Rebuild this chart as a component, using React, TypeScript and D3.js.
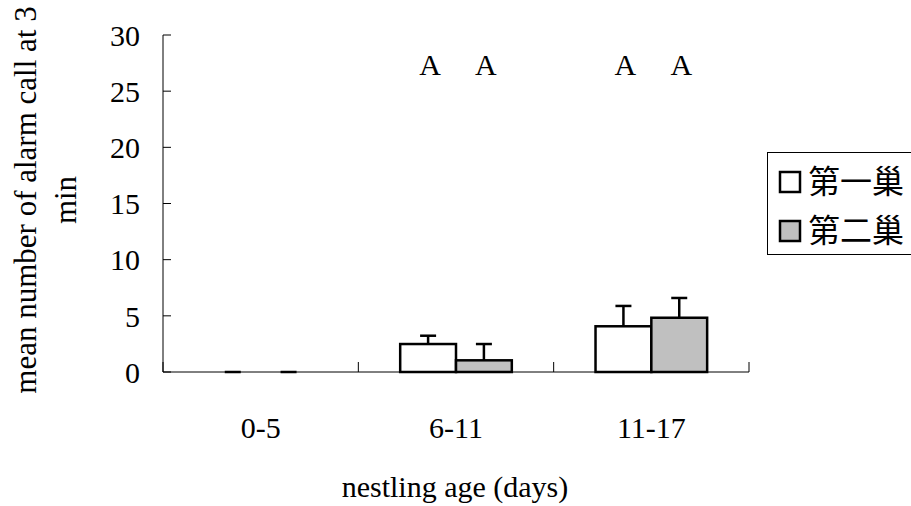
import React from "react";
import * as d3 from "d3";

const categories = ["0-5", "6-11", "11-17"];
const seriesNames = ["第一巢", "第二巢"];
const firstNest = [0, 2.49, 4.07];
const secondNest = [0, 1.04, 4.83];
const firstErr = [0, 0.74, 1.81];
const secondErr = [0, 1.45, 1.76];
const groupLabels = [["", ""], ["A", "A"], ["A", "A"]];
const yTicks = [0, 5, 10, 15, 20, 25, 30];

const W = 911, H = 506;
const left = 163, right = 749, top = 35, bottom = 372;
const fills = ["#ffffff", "#c0c0c0"];
const serif = "'Liberation Serif', 'Times New Roman', serif";
const cjk = "'Noto Sans CJK TC', sans-serif";

export default function App() {
  const x = d3.scaleBand().domain(categories).range([left, right]);
  const xs = d3.scaleBand().domain(seriesNames).range([0, x.bandwidth()]).paddingInner(0).paddingOuter(0.75);
  const y = d3.scaleLinear().domain([0, 30]).range([bottom, top]);
  const series = [firstNest, secondNest];
  const errs = [firstErr, secondErr];
  const bw = xs.bandwidth();
  const bounds = [left, ...categories.map((c) => (x(c) as number) + x.bandwidth())];

  return (
    <svg width={W} height={H} style={{ position: "absolute", left: 0, top: 0 }}>
      <rect width={W} height={H} fill="#fff" />
      {/* y axis */}
      <line x1={left} x2={left} y1={top} y2={bottom} stroke="#000" strokeWidth={1} />
      {yTicks.map((t) => (
        <g key={t}>
          <line x1={left} x2={left + 8} y1={y(t)} y2={y(t)} stroke="#000" />
          <text x={140} y={y(t)} dy="0.36em" textAnchor="end" fontFamily={serif} fontSize={30}>{t}</text>
        </g>
      ))}
      {/* x axis */}
      <line x1={left} x2={right} y1={bottom} y2={bottom} stroke="#000" />
      {bounds.map((b, i) => (
        <line key={i} x1={b} x2={b} y1={bottom} y2={bottom - 10} stroke="#000" />
      ))}
      {categories.map((c) => (
        <text key={c} x={(x(c) as number) + x.bandwidth() / 2} y={438} textAnchor="middle" fontFamily={serif} fontSize={30}>{c}</text>
      ))}
      {/* bars */}
      {categories.map((c, ci) =>
        seriesNames.map((s, si) => {
          const bx = (x(c) as number) + (xs(s) as number);
          const v = series[si][ci];
          const e = errs[si][ci];
          const cx = bx + bw / 2;
          return (
            <g key={c + s}>
              {v > 0 && e > 0 && (
                <g>
                  <line x1={cx} x2={cx} y1={y(v)} y2={y(v + e)} stroke="#000" strokeWidth={2.5} />
                  <line x1={cx - 8} x2={cx + 8} y1={y(v + e)} y2={y(v + e)} stroke="#000" strokeWidth={2.5} />
                </g>
              )}
              {v > 0 ? (
                <rect x={bx} y={y(v)} width={bw} height={y(0) - y(v)} fill={fills[si]} stroke="#000" strokeWidth={2.5} />
              ) : (
                <line x1={cx - 8} x2={cx + 8} y1={y(0)} y2={y(0)} stroke="#000" strokeWidth={2.5} />
              )}
              {groupLabels[ci][si] && (
                <text x={cx + 2} y={75} textAnchor="middle" fontFamily={serif} fontSize={30}>{groupLabels[ci][si]}</text>
              )}
            </g>
          );
        })
      )}
      {/* y title */}
      <g transform="translate(36, 200) rotate(-90)">
        <text x={0} y={0} textAnchor="middle" fontFamily={serif} fontSize={31}>mean number of alarm call at 3</text>
        <text x={0} y={40} textAnchor="middle" fontFamily={serif} fontSize={31}>min</text>
      </g>
      {/* x title */}
      <text x={455} y={497} textAnchor="middle" fontFamily={serif} fontSize={30}>nestling age (days)</text>
      {/* legend */}
      <rect x={767.5} y={152.5} width={150} height={102} fill="#fff" stroke="#000" />
      {seriesNames.map((s, i) => (
        <g key={s} transform={`translate(0, ${i * 49})`}>
          <rect x={780} y={172} width={20} height={20} fill={fills[i]} stroke="#000" strokeWidth={2.5} />
          <text x={808} y={193} fontFamily={cjk} fontSize={32}>{s}</text>
        </g>
      ))}
    </svg>
  );
}
